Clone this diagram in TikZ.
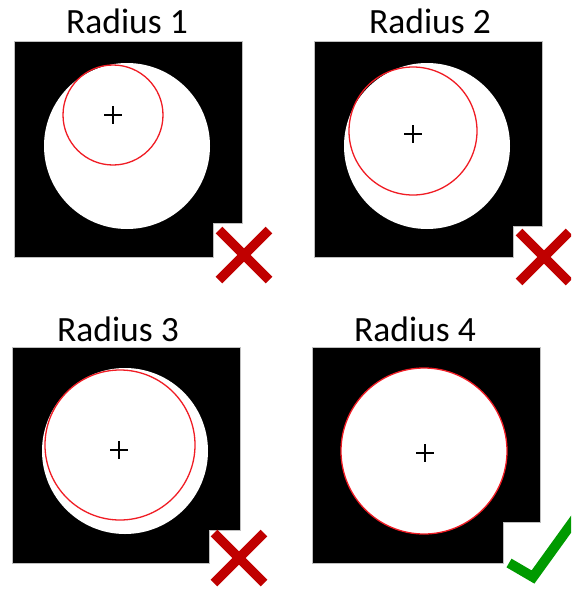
\documentclass[tikz,border=0pt]{standalone}
\usepackage{fontspec}
\setmainfont{Carlito}
\usepackage{xcolor}
\definecolor{wrong}{HTML}{C00000}
\definecolor{right}{HTML}{009A00}
\definecolor{guess}{HTML}{F01C24}
\usepackage{tikz}

\begin{document}
\begin{tikzpicture}[
  x=1pt, y=-1pt,
  font=\fontsize{35.5}{42}\selectfont,
  title/.style={anchor=base, inner sep=0pt},
  blackbox/.style={fill=black, draw=gray!50, line width=0.6pt},
  hole/.style={fill=white},
  guesscirc/.style={draw=guess, line width=1.3pt},
  centremark/.style={line width=2pt},
  crossmark/.style={draw=wrong, line width=9.5pt},
  okmark/.style={draw=right, line width=10pt, line join=miter},
]
\useasboundingbox (0,0) rectangle (571,592);
\clip (0,0) rectangle (571,592);

% Radius 1
\node[title] (t1) at (127,33) {Radius 1};
\draw[blackbox] (14,41) -- (242,41) -- (242,223) -- (213,223) -- (213,257) -- (14,257) -- cycle;
\fill[hole] (127,146) circle[radius=83pt];
\draw[guesscirc] (113,115) circle[radius=50pt];
\draw[centremark] (104,115) -- (122,115) (113,106) -- (113,124);
\draw[crossmark] (219,230) -- (269,280) (269,230) -- (219,280);

% Radius 2
\node[title] (t2) at (430,33) {Radius 2};
\draw[blackbox] (314,41) -- (542,41) -- (542,226) -- (513,226) -- (513,257) -- (314,257) -- cycle;
\fill[hole] (427,146) circle[radius=83pt];
\draw[guesscirc] (413,131) circle[radius=64pt];
\draw[centremark] (404,134) -- (422,134) (413,125) -- (413,143);
\draw[crossmark] (519,232) -- (569,282) (569,232) -- (519,282);

% Radius 3
\node[title] (t3) at (118,341) {Radius 3};
\draw[blackbox] (12,347) -- (240,347) -- (240,530) -- (209,530) -- (209,563) -- (12,563) -- cycle;
\fill[hole] (125,451) circle[radius=83pt];
\draw[guesscirc] (120,445) circle[radius=75pt];
\draw[centremark] (110,450) -- (128,450) (119,441) -- (119,459);
\draw[crossmark] (214,533) -- (264,583) (264,533) -- (214,583);

% Radius 4
\node[title] (t4) at (415,341) {Radius 4};
\draw[blackbox] (312,347) -- (540,347) -- (540,522) -- (503,522) -- (503,563) -- (312,563) -- cycle;
\fill[hole] (424,451) circle[radius=83pt];
\draw[guesscirc] (424,451) circle[radius=83pt];
\draw[centremark] (416,453) -- (434,453) (425,444) -- (425,462);
\draw[okmark] (509,563) -- (533,577) -- (577,516);
\end{tikzpicture}
\end{document}
